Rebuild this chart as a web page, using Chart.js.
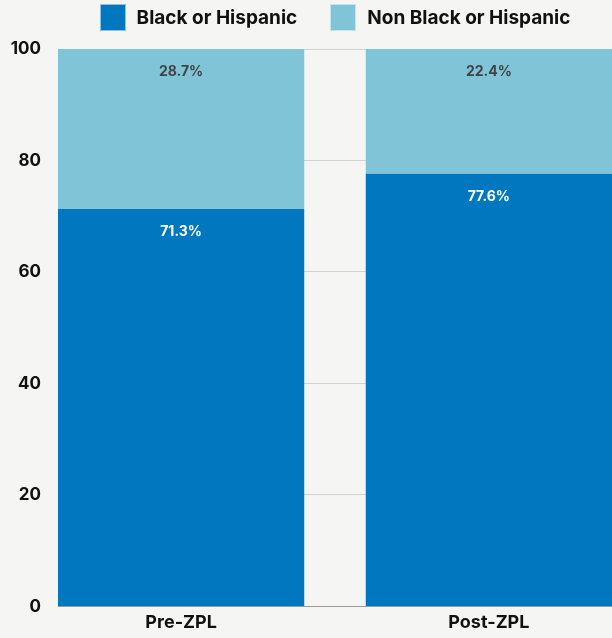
<!DOCTYPE html>
<html>
<head>
<meta charset="utf-8">
<script src="https://cdn.jsdelivr.net/npm/chart.js@4"></script>
<style>
  html, body { margin: 0; padding: 0; background: #f5f5f3; }
  body { font-family: Inter, "Liberation Sans", sans-serif; }
  #wrap { position: relative; width: 612px; height: 638px; }
  #legend {
    position: absolute; left: 58px; right: 0; top: 4px;
    display: flex; justify-content: center;
  }
  #legend .item { display: flex; align-items: center; margin: 0 16.5px; height: 27px; }
  #legend .box {
    width: 26px; height: 27px; box-sizing: border-box;
    border: 1px solid rgba(255, 255, 255, 0.55); margin-right: 11px;
  }
  #legend .text { font-size: 19px; font-weight: 700; color: #111; }
</style>
</head>
<body>
<div id="wrap">
  <canvas id="chart"></canvas>
  <div id="legend"></div>
</div>
<script>
const periods = ['Pre-ZPL', 'Post-ZPL'];
const blackOrHispanic = [71.3, 77.6];
const nonBlackOrHispanic = [28.7, 22.4];
const yTicks = [0, 20, 40, 60, 80, 100];

const FONT = 'Inter, "Liberation Sans", sans-serif';

// percentage label near the top of every segment
const segmentLabels = {
    id: 'segmentLabels',
    afterDatasetsDraw(chart) {
        const ctx = chart.ctx;
        ctx.save();
        ctx.font = '700 14px ' + FONT;
        ctx.textAlign = 'center';
        ctx.textBaseline = 'middle';
        chart.data.datasets.forEach((ds, i) => {
            const meta = chart.getDatasetMeta(i);
            meta.data.forEach((bar, j) => {
                ctx.fillStyle = ds.labelColor;
                ctx.fillText(ds.data[j].y.toFixed(1) + '%', bar.x, bar.y + 23);
            });
        });
        ctx.restore();
    }
};

const chart = new Chart(document.getElementById('chart'), {
    type: 'bar',
    data: {
        datasets: [
            {
                label: 'Black or Hispanic',
                data: blackOrHispanic.map((v, i) => ({ x: i, y: v })),
                backgroundColor: '#0077be',
                labelColor: '#ffffff',
                borderWidth: 0
            },
            {
                label: 'Non Black or Hispanic',
                data: nonBlackOrHispanic.map((v, i) => ({ x: i, y: v })),
                backgroundColor: '#7fc4d7',
                labelColor: '#444444',
                borderWidth: 0
            }
        ]
    },
    options: {
        responsive: true,
        maintainAspectRatio: false,
        animation: false,
        categoryPercentage: 0.8,
        barPercentage: 1,
        layout: { padding: { left: 0, right: 0, top: 49, bottom: 0 } },
        plugins: {
            tooltip: { enabled: false },
            legend: { display: false }
        },
        scales: {
            x: {
                type: 'linear',
                stacked: true,
                offset: false,
                min: -0.4,
                max: 1.4,
                afterBuildTicks: scale => { scale.ticks = periods.map((_, i) => ({ value: i })); },
                grid: { display: false, drawTicks: false, offset: false },
                border: { display: false },
                ticks: {
                    padding: 5,
                    color: '#111',
                    font: { family: FONT, size: 18, weight: '700' },
                    callback: v => periods[v]
                }
            },
            y: {
                stacked: true,
                min: 0,
                max: 100,
                afterBuildTicks: scale => { scale.ticks = yTicks.map(v => ({ value: v })); },
                afterFit: scale => { scale.width = 58; },
                grid: {
                    drawTicks: false,
                    color: c => c.tick && c.tick.value === 0 ? '#9a9a9a' : '#d2d2d2'
                },
                border: { display: false },
                ticks: {
                    padding: 17,
                    color: '#111',
                    font: { family: FONT, size: 17, weight: '700' }
                }
            }
        }
    },
    plugins: [segmentLabels]
});

// legend built from the datasets
const legendEl = document.getElementById('legend');
chart.data.datasets.forEach(ds => {
    const item = document.createElement('div');
    item.className = 'item';
    const box = document.createElement('span');
    box.className = 'box';
    box.style.background = ds.backgroundColor;
    const text = document.createElement('span');
    text.className = 'text';
    text.textContent = ds.label;
    item.append(box, text);
    legendEl.appendChild(item);
});
</script>
</body>
</html>
